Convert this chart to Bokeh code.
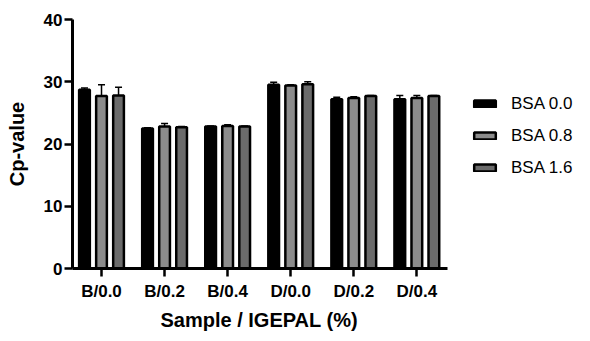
from bokeh.plotting import figure
from bokeh.models import ColumnDataSource, Range1d, FixedTicker, Whisker, Legend, LegendItem, TeeHead, Title
from bokeh.transform import dodge
from bokeh.embed import file_html
from bokeh.resources import INLINE

samples = ["B/0.0", "B/0.2", "B/0.4", "D/0.0", "D/0.2", "D/0.4"]
series = ["BSA 0.0", "BSA 0.8", "BSA 1.6"]
bsa00 = [28.7, 22.5, 22.8, 29.5, 27.2, 27.2]
bsa08 = [27.7, 22.8, 22.9, 29.4, 27.4, 27.4]
bsa16 = [27.8, 22.7, 22.8, 29.6, 27.7, 27.7]
err00 = [0.3, 0.1, 0.1, 0.4, 0.3, 0.6]
err08 = [1.8, 0.5, 0.2, 0.1, 0.2, 0.4]
err16 = [1.3, 0.1, 0.1, 0.4, 0.1, 0.1]
yticks = [0, 10, 20, 30, 40]

fills = ["#000000", "#8c8c8c", "#6b6b6b"]
offsets = [-0.27, 0.0, 0.27]
FONT = "Liberation Sans"

xs = list(range(len(samples)))
x_lo, x_hi = -0.46, 5.48          # extent of the drawn x axis
x_view_hi = 7.50                  # frame continues right to host the legend

p = figure(width=574, height=333, output_backend="svg", toolbar_location=None,
           x_range=Range1d(x_lo, x_view_hi), y_range=Range1d(0, 40),
           min_border_left=72, min_border_right=0, min_border_top=19, min_border_bottom=65)
p.outline_line_color = None
p.grid.visible = False
p.background_fill_color = "white"

renderers = []
for vals, errs, fc, off in zip([bsa00, bsa08, bsa16], [err00, err08, err16], fills, offsets):
    src = ColumnDataSource(dict(x=xs, top=vals, upper=[v + e for v, e in zip(vals, errs)]))
    w = Whisker(source=src, base=dodge("x", off), lower="top", upper="upper",
                line_color="black", line_width=1.5,
                upper_head=TeeHead(size=7, line_color="black", line_width=1.5), lower_head=None)
    p.add_layout(w)
    r = p.vbar(x=dodge("x", off), top="top", width=0.17, source=src,
               fill_color=fc, line_color="black", line_width=2.5)
    renderers.append(r)

for ax in (p.xaxis[0], p.yaxis[0]):
    ax.axis_line_width = 3
    ax.major_tick_line_width = 2.5
    ax.minor_tick_line_color = None
    ax.major_label_text_font = FONT
    ax.major_label_text_font_style = "bold"
    ax.major_label_text_font_size = "17px"
    ax.major_label_text_color = "black"
    ax.axis_label_text_font = FONT
    ax.axis_label_text_font_style = "bold"
    ax.axis_label_text_font_size = "20px"
    ax.axis_label_text_color = "black"

p.xaxis.bounds = (x_lo, x_hi)
p.xaxis.ticker = FixedTicker(ticks=xs)
p.xaxis.major_label_overrides = {i: s for i, s in enumerate(samples)}
p.xaxis.major_tick_in = 0
p.xaxis.major_tick_out = 8
p.xaxis.major_label_standoff = 5

p.yaxis.ticker = FixedTicker(ticks=yticks)
p.yaxis.major_tick_in = 0
p.yaxis.major_tick_out = 8
p.yaxis.major_label_standoff = 2
p.yaxis.axis_label = "Cp-value"
p.yaxis.axis_label_standoff = 13

xtitle = Title(text="Sample / IGEPAL (%)", align="left", offset=88, standoff=6,
               text_font=FONT, text_font_style="bold", text_font_size="20px",
               text_color="black")
p.add_layout(xtitle, "below")

legend = Legend(items=[LegendItem(label=s, renderers=[r]) for s, r in zip(series, renderers)],
                location=(399, 90), glyph_width=27, glyph_height=9, label_standoff=13,
                spacing=11, padding=0, margin=0, border_line_color=None,
                background_fill_alpha=0, label_text_font=FONT, label_text_font_size="17px",
                label_text_color="black", label_height=21)
p.add_layout(legend)

open("out.html", "w").write(file_html(p, INLINE))
